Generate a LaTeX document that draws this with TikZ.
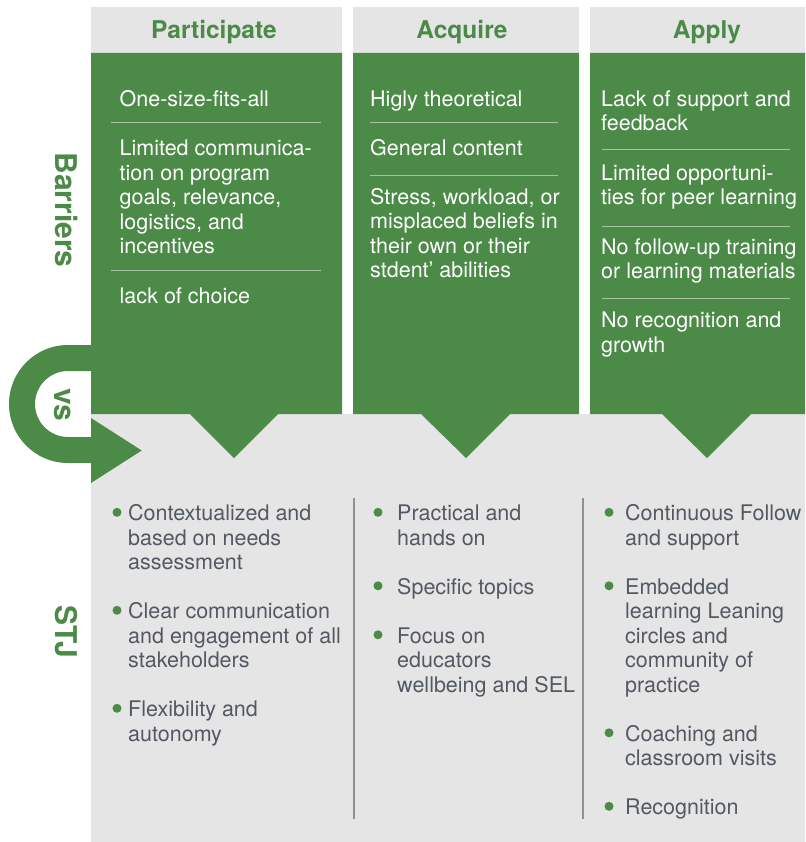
\documentclass[tikz,border=0pt]{standalone}
\usepackage{fontspec}
\setmainfont{TeX Gyre Heros}
\usetikzlibrary{positioning}

\definecolor{stjgreen}{HTML}{4B8A47}
\definecolor{stjgray}{HTML}{E4E5E4}
\definecolor{stjtext}{HTML}{535962}
\definecolor{stjrule}{HTML}{A8C4A5}
\definecolor{stjline}{HTML}{8E9296}

\begin{document}
\begin{tikzpicture}[x=1pt,y=-1pt,
		hdr/.style={font=\fontsize{24.5}{28}\selectfont\bfseries, text=stjgreen, anchor=base},
		side/.style={font=\fontsize{30}{32}\selectfont\bfseries, text=stjgreen, rotate=-90, inner sep=0pt},
		barr/.style={font=\fontsize{21.5}{24.5}\selectfont, text=white, anchor=base west, align=left, inner sep=0pt},
		stj/.style={barr, text=stjtext},
		dot/.style={circle, fill=stjgreen, inner sep=0pt, minimum size=9pt},
		rule/.style={draw=stjrule, line width=.8pt},
	]
	\useasboundingbox (0,0) rectangle (805,842);
	% panels
	\fill[stjgray] (91,414) rectangle (805,842);
	\fill[stjgray] (91,7) rectangle (342,53);
	\fill[stjgray] (353,7) rectangle (579,53);
	\fill[stjgray] (590,7) rectangle (805,53);
	\fill[stjgreen] (91,53) -- (342,53) -- (342,414) -- (278,414) -- (234,458) -- (190,414) -- (91,414) -- cycle;
	\fill[stjgreen] (353,53) -- (579,53) -- (579,414) -- (510,414) -- (466,458) -- (421,414) -- (353,414) -- cycle;
	\fill[stjgreen] (590,53) -- (805,53) -- (805,414) -- (751,414) -- (707,458) -- (662,414) -- (590,414) -- cycle;
	% turn arrow
	\fill[stjgreen] (91,345) -- (68,345) arc[start angle=270, end angle=90, radius=59] -- (91,463) -- (91,483)
		-- (141.7,450.5) -- (91,418) -- (91,437) -- (68,437) arc[start angle=90, end angle=270, radius=33] -- (91,371) -- cycle;
	\draw[stjline, line width=1.3pt] (354,498) -- (354,819) (583,498) -- (583,819);

	\node[side] (barriers) at (66.5,210) {Barriers};
	\node[side] (vs) at (63,405) {vs};
	\node[side] (stj) at (66,631.5) {STJ};

	\node[hdr] (hPar) at (214,38.3) {Participate};
	\node[hdr] (hAcq) at (462,38.3) {Acquire};
	\node[hdr] (hApp) at (707,38.3) {Apply};

	% barriers (base = last line)
	\node[barr] (bPar1) at (119.5,106.7) {One-size-fits-all};
	\node[barr] (bPar2) at (119.5,253.7) {Limited communica-\\tion on program\\goals, relevance,\\logistics, and\\incentives};
	\node[barr] (bPar3) at (119.5,303.3) {lack of choice};
	\draw[rule] (111,122.3) -- (321,122.3) (111,270) -- (321,270);

	\node[barr] (bAcq1) at (370,106.7) {Higly theoretical};
	\node[barr] (bAcq2) at (370,155.7) {General content};
	\node[barr] (bAcq3) at (370,277.8) {Stress, workload, or\\misplaced beliefs in\\their own or their\\stdent’ abilities};
	\draw[rule] (370,122.3) -- (558,122.3) (370,175.7) -- (558,175.7);

	\node[barr] (bApp1) at (601,130.8) {Lack of support and\\feedback};
	\node[barr] (bApp2) at (601,204.5) {Limited opportuni-\\ties for peer learning};
	\node[barr] (bApp3) at (601,278.5) {No follow-up training\\or learning materials};
	\node[barr] (bApp4) at (601,352.2) {No recognition and\\growth};
	\draw[rule] (602,149) -- (790,149) (602,226.7) -- (790,226.7) (602,298.3) -- (790,298.3);

	% stj
	\node[dot] (dPar1) at (117,512.3) {};
	\node[stj] (sPar1) at (128,569.7) {Contextualized and\\based on needs\\assessment};
	\node[dot] (dPar2) at (117,610.3) {};
	\node[stj] (sPar2) at (128,667.7) {Clear communication\\and engagement of all\\stakeholders};
	\node[dot] (dPar3) at (117,708.3) {};
	\node[stj] (sPar3) at (128,741.2) {Flexibility and\\autonomy};

	\node[dot] (dAcq1) at (378,512.3) {};
	\node[stj] (sAcq1) at (397,545.2) {Practical and\\hands on};
	\node[dot] (dAcq2) at (378,585.8) {};
	\node[stj] (sAcq2) at (397,594.2) {Specific topics};
	\node[dot] (dAcq3) at (378,634.8) {};
	\node[stj] (sAcq3) at (397,692.2) {Focus on\\educators\\wellbeing and SEL};

	\node[dot] (dApp1) at (609,512.3) {};
	\node[stj] (sApp1) at (625,545.2) {Continuous Follow\\and support};
	\node[dot] (dApp2) at (609,585.8) {};
	\node[stj] (sApp2) at (625,692.2) {Embedded\\learning Leaning\\circles and\\community of\\practice};
	\node[dot] (dApp3) at (609,732.8) {};
	\node[stj] (sApp3) at (625,765.7) {Coaching and\\classroom visits};
	\node[dot] (dApp4) at (609,806.3) {};
	\node[stj] (sApp4) at (625,814.7) {Recognition};
\end{tikzpicture}
\end{document}
